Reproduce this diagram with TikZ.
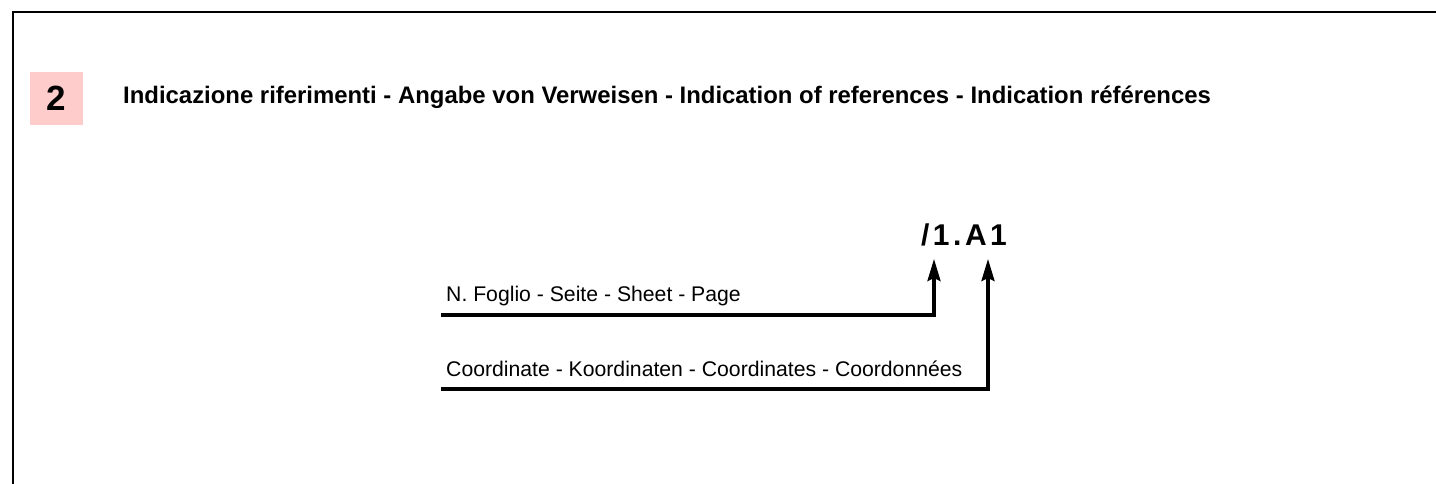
\documentclass[tikz,border=0pt]{standalone}
\usepackage{fontspec}
\setmainfont{Liberation Sans}
\usetikzlibrary{arrows.meta}
\definecolor{pinkbox}{RGB}{255,204,204}
\tikzset{
  frame/.style={line width=2.5pt, line cap=rect},
  lbl/.style={anchor=base west, inner sep=0pt, font=\fontsize{21.2}{25}\selectfont},
  conn/.style={line width=3.2pt, -{Stealth[length=22pt,width=13pt,inset=3pt]}},
}
\begin{document}
\begin{tikzpicture}[x=1pt,y=1pt]
\useasboundingbox (0,0) rectangle (1436,484);
% frame (top and left edges)
\draw[frame] (13,0) -- (13,472) -- (1440,472);
% number box
\node[fill=pinkbox, minimum width=53pt, minimum height=53pt, inner sep=0pt,
      font=\bfseries\fontsize{35}{40}\selectfont] (num) at (56.5,385.5) {2};
% title
\node[anchor=base west, inner sep=0pt, font=\bfseries\fontsize{23.9}{28}\selectfont]
  (title) at (123,380) {Indicazione riferimenti - Angabe von Verweisen - Indication of references - Indication références};
% reference code
\node[anchor=base, inner sep=0pt, font=\bfseries\fontsize{30}{34}\selectfont]
  (code) at (964,238) {/\kern3.5pt 1\kern3.5pt .\kern3.5pt A\kern3.5pt 1};
% labels
\node[lbl] (sheet) at (446,182) {N. Foglio - Seite - Sheet - Page};
\node[lbl] (coord) at (446,107) {Coordinate - Koordinaten - Coordinates - Coordonnées};
% connector end points
\coordinate (s1) at (441,169);
\coordinate (s2) at (441,95);
\coordinate (t1) at (934,225);
\coordinate (t2) at (988,225);
\draw[conn] (s1) -| (t1);
\draw[conn] (s2) -| (t2);
\end{tikzpicture}
\end{document}
